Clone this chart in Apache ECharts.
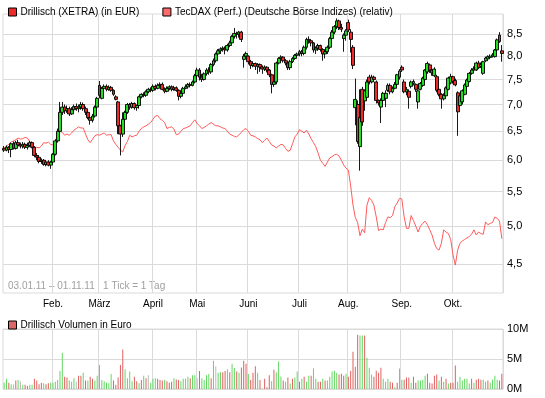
<!DOCTYPE html>
<html lang="de" style="height: 100%">
<head>
  <meta charset="utf-8">
</head>
<body style="height: 100%; margin: 0">
  <div id="container" style="width: 545px; height: 398px"></div>

  <script type="text/javascript" src="https://cdn.jsdelivr.net/npm/echarts@6.0.0/dist/echarts.min.js"></script>

  <script type="text/javascript">
    var dom = document.getElementById('container');
    var myChart = echarts.init(dom, null, {
      renderer: 'canvas',
      useDirtyRect: false
    });
    var option;

  // Handelstage 03.01.11 - 01.11.11, Index des ersten Tages je Monat
  var monthStarts = [21, 41, 64, 83, 105, 127, 148, 171, 193];
  var monthNames = ['Feb.', 'März', 'April', 'Mai', 'Juni', 'Juli', 'Aug.', 'Sep.', 'Okt.'];
  var priceTicks = [4.5, 5.0, 5.5, 6.0, 6.5, 7.0, 7.5, 8.0, 8.5];

  // Drillisch (XETRA): [open, close, low, high]
  var drillischJan = [
    [6.20,6.17,6.14,6.24],[6.17,6.22,6.15,6.25],[6.22,6.18,6.12,6.24],[6.18,6.28,6.05,6.30],
    [6.28,6.20,6.18,6.32],[6.20,6.30,6.18,6.33],[6.30,6.26,6.22,6.35],[6.26,6.24,6.20,6.30],
    [6.24,6.27,6.20,6.31],[6.27,6.22,6.19,6.30],[6.22,6.25,6.18,6.30],[6.25,6.30,6.22,6.33],
    [6.30,6.22,6.20,6.32],[6.22,6.08,6.05,6.24],[6.08,6.05,6.00,6.12],[6.05,5.98,5.95,6.08],
    [5.98,6.00,5.94,6.03],[6.00,5.93,5.91,6.02],[5.93,5.97,5.90,6.00],[5.97,5.92,5.90,6.00],
    [5.92,5.97,5.86,5.99]
  ];
  var drillischFeb = [
    [5.97,6.10,5.95,6.12],[6.10,6.33,6.08,6.36],[6.33,6.50,6.30,6.55],[6.50,6.85,6.48,7.05],
    [6.85,6.95,6.80,7.05],[6.95,6.88,6.82,7.00],[6.88,6.92,6.84,6.98],[6.92,6.82,6.78,6.96],
    [6.82,6.90,6.80,6.95],[6.90,6.96,6.86,7.00],[6.96,6.92,6.88,7.02],[6.92,6.95,6.85,7.00],
    [6.95,7.00,6.90,7.05],[7.00,6.92,6.88,7.04],[6.92,6.85,6.80,6.96],[6.85,6.75,6.72,6.88],
    [6.75,6.70,6.62,6.78],[6.70,6.78,6.66,6.82],[6.78,6.95,6.75,6.98],[6.95,7.12,6.92,7.15]
  ];
  var drillischMar = [
    [7.38,7.18,7.12,7.47],[7.12,7.32,7.10,7.35],[7.32,7.36,7.28,7.40],[7.36,7.30,7.26,7.40],
    [7.30,7.34,7.27,7.38],[7.34,7.28,7.25,7.37],[7.28,7.20,7.17,7.30],[7.15,7.10,7.08,7.18],
    [7.05,6.60,6.45,7.07],[6.60,6.45,6.08,6.62],[6.45,6.72,6.40,6.85],[6.72,6.85,6.68,6.88],
    [6.85,7.00,6.82,7.03],[7.00,6.95,6.90,7.03],[6.95,7.02,6.92,7.05],[7.02,6.94,6.90,7.04],
    [6.94,6.98,6.88,7.00],[6.98,7.15,6.92,7.17],[7.15,7.20,7.12,7.22],[7.20,7.18,7.14,7.24],
    [7.18,7.25,7.15,7.28],[7.25,7.30,7.22,7.33],[7.30,7.28,7.24,7.34]
  ];
  var drillischApr = [
    [7.28,7.36,7.25,7.40],[7.36,7.32,7.28,7.40],[7.32,7.38,7.30,7.42],[7.38,7.40,7.34,7.44],
    [7.40,7.30,7.28,7.44],[7.30,7.26,7.22,7.34],[7.26,7.32,7.24,7.36],[7.32,7.35,7.28,7.38],
    [7.35,7.30,7.26,7.38],[7.30,7.33,7.27,7.37],[7.33,7.28,7.25,7.36],[7.28,7.16,7.08,7.30],
    [7.16,7.22,7.12,7.25],[7.22,7.32,7.20,7.35],[7.32,7.35,7.30,7.40],[7.35,7.40,7.32,7.43],
    [7.40,7.38,7.34,7.44],[7.38,7.45,7.36,7.48],[7.45,7.58,7.42,7.62]
  ];
  var drillischMay = [
    [7.58,7.70,7.52,7.75],[7.70,7.55,7.48,7.74],[7.55,7.50,7.45,7.62],[7.50,7.62,7.48,7.65],
    [7.62,7.70,7.58,7.74],[7.70,7.66,7.60,7.76],[7.66,7.82,7.62,7.85],[7.82,7.90,7.78,7.95],
    [7.90,8.05,7.86,8.08],[8.05,8.12,8.00,8.16],[8.12,8.16,8.05,8.20],[8.16,8.18,8.10,8.22],
    [8.18,8.14,8.04,8.22],[8.14,8.24,8.10,8.28],[8.24,8.30,8.20,8.35],[8.30,8.45,8.26,8.48],
    [8.45,8.52,8.40,8.65],[8.52,8.50,8.40,8.56],[8.50,8.55,8.42,8.58],[8.55,8.38,8.32,8.58],
    [7.93,8.00,7.75,8.05],[8.00,8.06,7.95,8.10]
  ];
  var drillischJun = [
    [8.00,7.88,7.82,8.02],[7.88,7.80,7.72,7.92],[7.80,7.84,7.76,7.88],[7.84,7.78,7.70,7.86],
    [7.78,7.82,7.62,7.85],[7.82,7.76,7.66,7.84],[7.76,7.72,7.62,7.80],[7.72,7.76,7.68,7.80],
    [7.76,7.70,7.65,7.78],[7.70,7.60,7.55,7.72],[7.60,7.40,7.22,7.62],[7.40,7.45,7.35,7.50],
    [7.45,7.85,7.40,7.88],[7.85,7.95,7.82,7.98],[7.95,7.98,7.90,8.02],[7.98,7.90,7.86,8.00],
    [7.90,7.85,7.80,7.94],[7.85,7.75,7.70,7.88],[7.75,7.88,7.70,7.92],[7.88,7.95,7.85,7.98],
    [7.95,8.02,7.92,8.05],[8.02,8.05,7.98,8.08]
  ];
  var drillischJul = [
    [8.05,8.10,8.00,8.14],[8.10,8.06,8.00,8.14],[8.06,8.20,8.02,8.24],[8.20,8.38,8.15,8.42],
    [8.38,8.35,8.28,8.45],[8.35,8.30,8.22,8.38],[8.30,8.14,8.08,8.32],[8.14,8.18,8.05,8.22],
    [8.18,8.24,8.12,8.28],[8.24,8.15,8.10,8.26],[8.15,8.05,7.90,8.18],[8.05,8.10,7.95,8.14],
    [8.10,8.20,8.05,8.24],[8.20,8.40,8.16,8.44],[8.40,8.55,8.36,8.60],[8.55,8.68,8.50,8.72],
    [8.68,8.82,8.62,8.88],[8.82,8.66,8.60,8.85],[8.66,8.62,8.55,8.75],[8.40,8.48,8.10,8.52],
    [8.48,8.58,8.35,8.62]
  ];
  var drillischAug = [
    [8.78,8.60,8.55,8.85],[8.55,8.38,8.08,8.62],[8.20,7.80,7.72,8.25],[6.94,7.10,6.61,7.52],
    [7.00,6.32,6.28,7.08],[6.23,6.75,5.83,7.30],[7.30,6.67,6.60,7.35],[7.07,7.27,6.88,7.30],
    [7.14,7.45,7.10,7.50],[7.55,7.45,7.40,7.60],[7.45,7.55,7.42,7.60],[7.55,7.50,7.45,7.58],
    [7.45,7.08,7.02,7.48],[7.08,7.03,6.98,7.10],[6.95,7.08,6.65,7.12],[7.08,7.22,7.00,7.25],
    [7.12,7.22,6.95,7.28],[7.28,7.38,7.25,7.42],[7.38,7.25,7.20,7.42],[7.25,7.32,7.22,7.36],
    [7.32,7.40,7.30,7.45],[7.40,7.60,7.38,7.62],[7.55,7.68,7.50,7.72]
  ];
  var drillischSep = [
    [7.76,7.70,7.66,7.80],[7.45,7.25,7.22,7.50],[7.25,7.30,7.18,7.35],[7.26,7.14,6.92,7.30],
    [7.36,7.45,7.32,7.48],[7.42,7.46,7.38,7.50],[7.40,7.30,7.25,7.42],[7.05,7.27,6.92,7.30],
    [7.30,7.42,7.28,7.45],[7.38,7.53,7.35,7.56],[7.50,7.70,7.46,7.72],[7.66,7.84,7.62,7.88],
    [7.81,7.70,7.64,7.84],[7.70,7.64,7.58,7.74],[7.58,7.72,7.55,7.76],[7.56,7.28,7.24,7.60],
    [7.30,7.20,7.16,7.32],[7.20,7.11,6.92,7.22],[7.11,7.18,7.08,7.22],[7.17,7.33,7.14,7.36],
    [7.30,7.53,7.28,7.56],[7.43,7.56,7.40,7.62]
  ];
  var drillischOct = [
    [7.56,7.46,7.42,7.58],[7.48,7.39,7.36,7.52],[7.23,6.86,6.42,7.26],[6.98,7.17,6.92,7.20],
    [7.05,7.27,7.00,7.30],[7.20,7.39,7.18,7.42],[7.36,7.49,7.33,7.52],[7.46,7.63,7.44,7.66],
    [7.63,7.70,7.60,7.74],[7.70,7.73,7.66,7.78],[7.70,7.85,7.68,7.88],[7.85,7.75,7.72,7.90],
    [7.78,7.82,7.75,7.86],[7.63,7.88,7.60,7.90],[7.90,7.96,7.87,7.99],[7.94,7.99,7.90,8.02],
    [7.97,8.00,7.94,8.04],[8.00,8.03,7.97,8.07],[7.99,8.14,7.97,8.16],[8.14,8.37,8.12,8.40],
    [8.48,8.33,8.30,8.55]
  ];
  var drillischNov = [[8.12,8.06,7.88,8.25]];

  // TecDAX relativ zum Startkurs
  var tecdaxJan = [6.21,6.24,6.27,6.31,6.33,6.35,6.38,6.36,6.37,6.39,6.38,6.32,6.22,6.20,6.22,6.21,6.24,6.30,6.29,6.31,6.27];
  var tecdaxFeb = [6.26,6.30,6.46,6.50,6.48,6.43,6.45,6.43,6.47,6.52,6.55,6.58,6.56,6.56,6.45,6.35,6.30,6.36,6.42,6.44];
  var tecdaxMar = [6.43,6.45,6.47,6.43,6.44,6.44,6.33,6.27,6.22,6.17,6.14,6.25,6.32,6.43,6.40,6.42,6.43,6.50,6.55,6.58,6.60,6.63,6.66];
  var tecdaxApr = [6.72,6.78,6.79,6.73,6.70,6.66,6.55,6.57,6.58,6.54,6.44,6.45,6.50,6.55,6.56,6.58,6.60,6.66,6.71];
  var tecdaxMay = [6.64,6.60,6.55,6.57,6.60,6.63,6.66,6.63,6.60,6.60,6.58,6.56,6.55,6.50,6.45,6.43,6.41,6.40,6.44,6.48,6.53,6.55];
  var tecdaxJun = [6.50,6.43,6.42,6.40,6.37,6.35,6.30,6.34,6.38,6.32,6.26,6.24,6.21,6.24,6.27,6.26,6.20,6.15,6.17,6.28,6.40,6.45];
  var tecdaxJul = [6.53,6.50,6.47,6.52,6.45,6.37,6.30,6.23,6.12,6.00,5.95,5.90,5.97,6.04,6.06,6.09,6.10,6.07,6.00,5.92,5.87];
  var tecdaxAug = [5.84,5.59,5.30,5.12,5.05,4.87,4.96,4.91,5.30,5.41,5.37,5.30,5.13,4.94,4.96,4.95,5.05,5.13,5.12,5.15,5.28,5.33,5.40];
  var tecdaxSep = [5.39,5.13,4.97,4.97,5.15,5.08,5.00,4.92,5.00,5.04,5.07,5.02,4.95,4.88,4.77,4.70,4.68,4.77,4.95,4.92,4.90,4.82];
  var tecdaxOct = [4.62,4.49,4.68,4.77,4.80,4.82,4.84,4.86,4.89,4.95,4.88,4.92,4.90,4.89,5.06,5.02,5.04,5.05,5.13,5.11,5.07];
  var tecdaxNov = [4.83];

  // Volumen in Mio. EUR und Farbe (g = steigend, r = fallend, n = unveraendert)
  var volumeH1 = [
    1.05,1.7,1.05,0.8,0.8,1.4,1.5,1.3,0.7,0.7, 0.5,0.7,0.7,1.7,1.4,0.8,1.05,0.95,0.8,0.95,
    1.05,1.05,1.2,1.5,3.0,6.05,2.05,1.9,1.4,1.2, 1.8,1.2,2.2,2.2,2.7,1.4,1.4,2.05,1.7,1.4,
    2.2,4.0,1.5,1.3,1.05,0.95,2.5,1.4,0.7,1.9, 4.0,6.6,3.3,1.8,2.9,1.3,2.05,1.3,0.95,1.5,
    2.2,1.8,2.3,1.05,1.7,1.8,1.7,1.5,1.4,1.5, 1.3,1.05,1.2,1.8,1.6,1.5,1.3,1.7,1.7,2.05,
    1.8,2.3,2.3,1.8,3.0,1.8,1.5,2.3,2.5,1.8, 4.7,3.8,2.7,2.8,2.8,3.0,3.3,2.8,4.2,3.5,
    2.9,2.7,3.6,4.7,4.2,2.5,1.5,2.7,3.8,2.7, 1.5,0.1,1.7,0.3,2.3,1.3,3.2
  ];
  var volumeH2 = [
    2.8,4.6,2.1,1.4,1.2,1.9,0.9,1.7,1.9,2.9, 1.2,1.7,2.05,1.2,2.2,2.2,3.4,1.7,1.2,1.2,
    1.7,1.4,1.4,2.05,2.9,3.05,2.7,2.4,2.55,2.2, 2.55,2.05,3.05,6.2,3.7,9.05,8.9,8.9,8.9,5.2,
    3.55,2.4,2.05,3.05,2.7,3.55,1.7,1.2,1.7,1.2, 1.05,0.3,1.05,3.4,1.55,1.55,1.9,1.9,1.05,2.05,
    1.05,1.4,1.4,1.55,2.2,2.55,1.05,0.9,2.2,2.4, 1.4,2.05,1.2,1.7,0.9,1.05,1.05,3.9,1.2,2.05,
    1.4,1.7,1.7,0.9,1.7,1.05,1.55,1.7,1.55,1.55, 1.2,1.4,1.05,1.55,2.2,1.55,1.4,2.55
  ];
  var volumeDir =
    'ggrgnrgngr' + 'rggrrrrgrr' + 'ggggggrrgg' + 'gnrrgrgrrg' + 'gggggggrrr' + 'rrggggrrgr' +
    'grngggrrrg' + 'rrrgrrgggg' + 'rggnrggggr' + 'gnggrrgrgg' + 'rgrrrgrrrg' + 'rgrrrgr' +
    'gggrgrgrgg' + 'rgrggrggrr' + 'grgggggrrr' + 'grrrrrggrg' + 'ggrrrrgggr' + 'rgrggrrrgr' +
    'rggggrrrrr' + 'grgrgrrrgg' + 'ggggrgrrrg' + 'grggggrr';

  var drillisch = [].concat(drillischJan, drillischFeb, drillischMar, drillischApr, drillischMay,
    drillischJun, drillischJul, drillischAug, drillischSep, drillischOct, drillischNov);
  var tecdax = [].concat(tecdaxJan, tecdaxFeb, tecdaxMar, tecdaxApr, tecdaxMay,
    tecdaxJun, tecdaxJul, tecdaxAug, tecdaxSep, tecdaxOct, tecdaxNov);
  var volume = volumeH1.concat(volumeH2);

  var font = 'Liberation Sans, Arial, sans-serif';
  var gridColor = '#dadada';
  var dirColors = { g: '#62d862', r: '#e06060', n: '#bcbcbc' };

  var days = drillisch.map(function (d, i) { return String(i); });
  var isMonthStart = function (index) { return monthStarts.indexOf(index) >= 0; };
  var logTicks = priceTicks.map(function (v) { return Math.log(v); });

  option = {
    animation: false,
    textStyle: { fontFamily: font },
    legend: [
      {
        left: 3, top: 2, itemWidth: 8, itemHeight: 8, itemGap: 23,
        selectedMode: false,
        textStyle: { fontSize: 10, color: '#000', fontFamily: font, padding: [0, 0, 0, -1] },
        data: [
          { name: 'Drillisch (XETRA) (in EUR)', icon: 'rect',
            itemStyle: { color: '#ee2a2a', borderColor: '#000', borderWidth: 1 } },
          { name: 'TecDAX (Perf.) (Deutsche Börse Indizes) (relativ)', icon: 'rect',
            itemStyle: { color: '#ff6a6a', borderColor: '#000', borderWidth: 1 } }
        ]
      },
      {
        left: 3, top: 315, itemWidth: 8, itemHeight: 8,
        selectedMode: false,
        textStyle: { fontSize: 10, color: '#000', fontFamily: font, padding: [0, 0, 0, -1] },
        data: [
          { name: 'Drillisch Volumen in Euro', icon: 'rect',
            itemStyle: { color: '#dd6666', borderColor: '#000', borderWidth: 1 } }
        ]
      }
    ],
    graphic: [
      {
        type: 'text', left: 8, top: 281,
        style: { text: '03.01.11 – 01.11.11   1 Tick = 1 Tag', fill: '#a0a0a0', font: '10px ' + font }
      }
    ],
    grid: [
      { left: 3, right: 42, top: 14, height: 279, show: true, borderColor: gridColor, borderWidth: 1, outerBoundsMode: 'none' },
      { left: 3, right: 42, top: 329, height: 60, show: true, borderColor: gridColor, borderWidth: 1, outerBoundsMode: 'none' }
    ],
    xAxis: [
      {
        type: 'category', gridIndex: 0, data: days, boundaryGap: true,
        axisLine: { show: false }, axisTick: { show: false },
        axisLabel: {
          interval: function (index) { return isMonthStart(index); },
          formatter: function (value, index) { return monthNames[monthStarts.indexOf(index)]; },
          color: '#000', fontSize: 10, margin: 6, fontFamily: font
        },
        splitLine: { show: true, interval: function (index) { return isMonthStart(index); },
          lineStyle: { color: gridColor, width: 1 } }
      },
      {
        type: 'category', gridIndex: 1, data: days, boundaryGap: true,
        axisLine: { show: false }, axisTick: { show: false }, axisLabel: { show: false },
        splitLine: { show: true, interval: function (index) { return isMonthStart(index); },
          lineStyle: { color: gridColor, width: 1 } }
      }
    ],
    yAxis: [
      {
        type: 'value', gridIndex: 0, position: 'right',
        min: Math.log(4.157), max: Math.log(8.99),
        axisLine: { show: false },
        axisTick: { show: false, customValues: logTicks },
        axisLabel: {
          customValues: logTicks,
          formatter: function (v) { return Math.exp(v).toFixed(1).replace('.', ','); },
          color: '#000', fontSize: 11, margin: 4, fontFamily: font
        },
        splitLine: { show: true, lineStyle: { color: gridColor, width: 1 } }
      },
      {
        type: 'value', gridIndex: 1, position: 'right',
        min: 0, max: 10, interval: 5,
        axisLine: { show: false }, axisTick: { show: false },
        axisLabel: { formatter: function (v) { return v + 'M'; }, color: '#000', fontSize: 11, margin: 4, fontFamily: font },
        splitLine: { show: true, lineStyle: { color: gridColor, width: 1 } }
      }
    ],
    series: [
      {
        name: 'TecDAX (Perf.) (Deutsche Börse Indizes) (relativ)',
        type: 'line', xAxisIndex: 0, yAxisIndex: 0, z: 2,
        showSymbol: false, symbol: 'none',
        lineStyle: { color: '#ff5a5a', width: 1 },
        itemStyle: { color: '#ff6a6a' },
        data: tecdax.map(function (v) { return Math.log(v); })
      },
      {
        name: 'Drillisch (XETRA) (in EUR)',
        type: 'candlestick', xAxisIndex: 0, yAxisIndex: 0, z: 3,
        barWidth: 3.4,
        itemStyle: {
          color: '#22dd22', color0: '#ee2a2a',
          borderColor: '#000', borderColor0: '#000', borderWidth: 0.9
        },
        data: drillisch.map(function (d) { return d.map(function (v) { return Math.log(v); }); })
      },
      {
        name: 'Drillisch Volumen in Euro',
        type: 'bar', xAxisIndex: 1, yAxisIndex: 1,
        barWidth: 1,
        itemStyle: { color: '#dd6666' },
        data: volume.map(function (v, i) {
          return { value: v, itemStyle: { color: dirColors[volumeDir.charAt(i)] || '#bcbcbc' } };
        })
      }
    ]
  };

    if (option && typeof option === 'object') {
      myChart.setOption(option);
    }

    window.addEventListener('resize', myChart.resize);
  </script>
</body>
</html>
